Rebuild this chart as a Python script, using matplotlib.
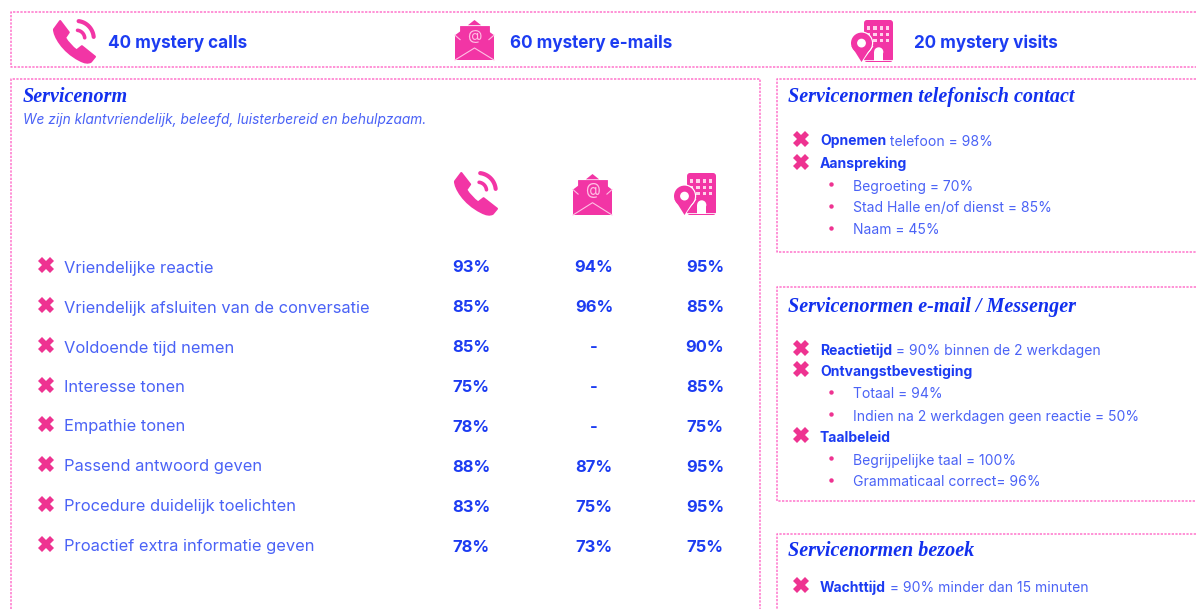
import numpy as np
import matplotlib
matplotlib.use('Agg')
import matplotlib.pyplot as plt
from matplotlib.path import Path
from matplotlib.patches import PathPatch, Polygon, Rectangle, Circle, FancyBboxPatch

# data
header_labels = ['40 mystery calls', '60 mystery e-mails', '20 mystery visits']
norm_labels = ['Vriendelijke reactie', 'Vriendelijk afsluiten van de conversatie', 'Voldoende tijd nemen',
               'Interesse tonen', 'Empathie tonen', 'Passend antwoord geven',
               'Procedure duidelijk toelichten', 'Proactief extra informatie geven']
calls_pct = ['93%', '85%', '85%', '75%', '78%', '88%', '83%', '78%']
mails_pct = ['94%', '96%', '-', '-', '-', '87%', '75%', '73%']
visits_pct = ['95%', '85%', '90%', '85%', '75%', '95%', '95%', '75%']
tel_lines = [('x', 'Opnemen', ' telefoon = 98%'), ('x', 'Aanspreking', ''), ('o', '', 'Begroeting = 70%'),
             ('o', '', 'Stad Halle en/of dienst = 85%'), ('o', '', 'Naam = 45%')]
mail_lines = [('x', 'Reactietijd', ' = 90% binnen de 2 werkdagen'), ('x', 'Ontvangstbevestiging', ''),
              ('o', '', 'Totaal = 94%'), ('o', '', 'Indien na 2 werkdagen geen reactie = 50%'),
              ('x', 'Taalbeleid', ''), ('o', '', 'Begrijpelijke taal = 100%'), ('o', '', 'Grammaticaal correct= 96%')]
visit_lines = [('x', 'Wachttijd', ' = 90% minder dan 15 minuten')]

PINK = '#f235a5'
RED_PINK = '#ee3391'
DASH = '#ff74cc'
BLUE = '#1c3cf2'
LIGHT = '#4a62f6'
FONT = 'Inter'

fig = plt.figure(figsize=(11.96, 6.09), dpi=100)
ax = fig.add_axes([0, 0, 1, 1])
ax.set_xlim(0, 1196)
ax.set_ylim(609, 0)
ax.axis('off')


def dashed(x, y):
    ax.plot(x, y, color=DASH, lw=1.1, linestyle=(0, (1.5, 0.9)), clip_on=True)


def phone(x0, y0, w, h):
    verts = [(0.15, 0.0), (0.36, 0.27), (0.27, 0.40), (0.38, 0.58), (0.55, 0.70), (0.68, 0.60), (1.0, 0.85),
             (0.9, 0.97), (0.8, 1.03), (0.62, 0.93), (0.2, 0.72), (0.0, 0.35), (0.0, 0.2), (0.15, 0.0)]
    codes = [Path.MOVETO, Path.LINETO, Path.LINETO, Path.CURVE3, Path.CURVE3, Path.LINETO, Path.LINETO,
             Path.LINETO, Path.CURVE3, Path.CURVE3, Path.CURVE4, Path.CURVE4, Path.CURVE4, Path.CLOSEPOLY]
    verts = [(x0 + a * w, y0 + b * h) for a, b in verts]
    ax.add_patch(PathPatch(Path(verts, codes), fc=PINK, ec=PINK, lw=1.5, joinstyle='round'))
    # wave arcs
    for r, lw in [(0.2, 2.6), (0.42, 3.0)]:
        t = np.linspace(-1.45, -0.1, 20)
        ax.plot(x0 + (0.55 + r * np.cos(t)) * w, y0 + (0.42 + r * np.sin(t)) * h, color=PINK, lw=lw,
                solid_capstyle='round')


def envelope(x0, y0, w, h):
    ax.add_patch(Polygon([(x0, y0 + 0.38 * h), (x0 + 0.14 * w, y0 + 0.28 * h), (x0 + 0.86 * w, y0 + 0.28 * h),
                          (x0 + w, y0 + 0.38 * h), (x0 + w, y0 + h), (x0, y0 + h)], fc=PINK, ec='none'))
    ax.add_patch(Polygon([(x0 + 0.33 * w, y0 + 0.13 * h), (x0 + 0.5 * w, y0), (x0 + 0.67 * w, y0 + 0.13 * h)],
                         fc=PINK, ec='none'))
    ax.add_patch(Rectangle((x0 + 0.13 * w, y0 + 0.14 * h), 0.74 * w, 0.55 * h, fc=PINK, ec=PINK, lw=0.6))
    ax.plot([x0, x0 + 0.13 * w], [y0 + 0.38 * h, y0 + 0.49 * h], color='#ffc0e4', lw=0.8)
    ax.plot([x0 + w, x0 + 0.87 * w], [y0 + 0.38 * h, y0 + 0.49 * h], color='#ffc0e4', lw=0.8)
    ax.plot([x0, x0 + 0.5 * w, x0 + w], [y0 + h, y0 + 0.7 * h, y0 + h], color='#ffc0e4', lw=0.8)
    ax.text(x0 + 0.5 * w, y0 + 0.4 * h, '@', color='#ffc0e4', fontsize=h * 0.27, ha='center', va='center',
            family=FONT)


def building(x0, y0, w, h):
    bx = x0 + 0.31 * w
    ax.add_patch(FancyBboxPatch((bx, y0 + 0.0 * h), 0.69 * w, 1.0 * h, boxstyle='round,pad=0,rounding_size=3',
                                fc=PINK, ec='none'))
    for r in range(3):
        for c in range(4):
            ax.add_patch(Rectangle((bx + (0.07 + c * 0.15) * w, y0 + (0.15 + r * 0.15) * h), 0.08 * w, 0.08 * h,
                                   fc='#ffd0ea', ec='none'))
    ax.add_patch(Rectangle((bx + 0.24 * w, y0 + 0.76 * h), 0.22 * w, 0.21 * h, fc='white', ec='none'))
    ax.add_patch(Circle((bx + 0.35 * w, y0 + 0.76 * h), 0.11 * w, fc='white', ec='none'))
    ax.plot([bx, bx + 0.69 * w], [y0 + 0.96 * h] * 2, color='white', lw=0.6)
    # pin
    cx, cy, r = x0 + 0.25 * w, y0 + 0.55 * h, 0.25 * w
    ax.add_patch(Circle((cx, cy), r + 1.2, fc='white', ec='none'))
    ax.add_patch(Polygon([(cx - r - 1.5, cy + 3), (cx, y0 + h + 1), (cx + r + 1.5, cy + 3)], fc='white', ec='none'))
    ax.add_patch(Circle((cx, cy), r, fc=PINK, ec='none'))
    ax.add_patch(Polygon([(cx - r + 0.5, cy + 3), (cx, y0 + h), (cx + r - 0.5, cy + 3)], fc=PINK, ec='none'))
    ax.add_patch(Circle((cx, cy), r * 0.42, fc='white', ec='none'))


def cross(x, y, size=11):
    ax.plot([x], [y], marker='X', color=RED_PINK, markersize=size, markeredgewidth=0)


def title(x, y, s):
    ax.text(x, y, s, color='#1230ee', family='Liberation Serif', style='italic', weight='bold', fontsize=14.5,
            va='center', ha='left')


def text_lines(lines, ys, size=10.05):
    for (kind, bold, light), y in zip(lines, ys):
        if kind == 'x':
            cross(801, y - 2)
            x = 820
        else:
            ax.plot([831], [y - 2], marker='o', color=RED_PINK, markersize=3.2, markeredgewidth=0)
            x = 853
        if bold:
            t = ax.text(x, y + 0.5, bold, color=BLUE, family=FONT, weight='bold', fontsize=size, va='center')
            x = t.get_window_extent(fig.canvas.get_renderer()).x1
        if light:
            ax.text(x, y + 0.5, light, color=LIGHT, family=FONT, fontsize=size, va='center')


# frames
dashed([1196, 11, 11, 1196], [12, 12, 67, 67])
dashed([11, 11, 760, 760], [609, 79, 79, 609])
dashed([1196, 777, 777, 1196], [79, 79, 252, 252])
dashed([1196, 777, 777, 1196], [287, 287, 501, 501])
dashed([1196, 777, 777], [534, 534, 609])

# header row
phone(54, 21, 41, 42)
envelope(455, 20, 39, 40)
building(851, 20, 42, 42)
for x, s in zip([108, 510, 914], header_labels):
    ax.text(x, 43, s, color=BLUE, family=FONT, weight='bold', fontsize=12.3, va='center')

# left panel
title(23, 97, 'Servicenorm')
ax.text(23, 120, 'We zijn klantvriendelijk, beleefd, luisterbereid en behulpzaam.', color=LIGHT, family=FONT,
        style='italic', fontsize=9.9, va='center')
phone(455, 173, 42, 42)
envelope(573, 174, 39, 41)
building(674, 173, 42, 42)

row_y = [267, 307, 347, 387, 426, 466, 506, 546]
for y, lab, a, b, c in zip(row_y, norm_labels, calls_pct, mails_pct, visits_pct):
    cross(46, y - 2)
    ax.text(64, y + 1, lab, color=LIGHT, family=FONT, fontsize=11.85, va='center')
    for x, s in zip([471, 594, 705], [a, b, c]):
        ax.text(x, y + 1, s, color=BLUE, family=FONT, weight='bold', fontsize=11.9, ha='center', va='center')

# right panels
title(788, 97, 'Servicenormen telefonisch contact')
text_lines(tel_lines, [141, 163.5, 186, 208, 230])
title(788, 307, 'Servicenormen e-mail / Messenger')
text_lines(mail_lines, [350, 371, 393.5, 416, 437, 460, 481.5])
title(788, 551, 'Servicenormen bezoek')
text_lines(visit_lines, [587])

plt.savefig('out.png', dpi=100)
